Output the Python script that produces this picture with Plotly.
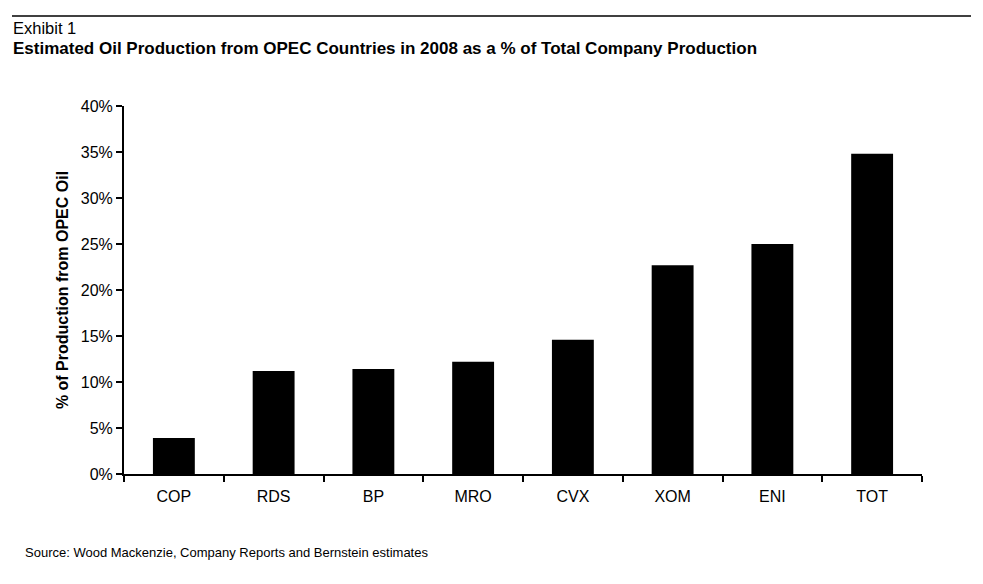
import plotly.graph_objects as go

companies = ["COP", "RDS", "BP", "MRO", "CVX", "XOM", "ENI", "TOT"]
opec_share = [3.9, 11.2, 11.4, 12.2, 14.6, 22.7, 25.0, 34.8]
y_ticks = [0, 5, 10, 15, 20, 25, 30, 35, 40]
y_tick_labels = [f"{v}%" for v in y_ticks]

W, H = 975, 576
L, R, T, B = 116, 61, 98, 110
PW, PH = W - L - R, H - T - B

def px(x):
    return (x - 8 - L) / PW

def py(y):
    return (H - B - (y - 8)) / PH

fig = go.Figure()
fig.add_trace(go.Bar(
    x=companies, y=opec_share,
    marker=dict(color="black", line=dict(width=0)),
    width=0.42,
))

fig.update_layout(
    width=W, height=H,
    margin=dict(l=L, r=R, t=T, b=B),
    paper_bgcolor="white", plot_bgcolor="white",
    font=dict(family="Liberation Sans, Arial, sans-serif", color="black", size=16),
    showlegend=False,
    xaxis=dict(
        showline=True, linecolor="black", linewidth=2,
        ticks="outside", tickson="boundaries", ticklen=6, tickwidth=2, tickcolor="black",
        tickfont=dict(size=16), showgrid=False, range=[-0.5, 7.5],
        ticklabelstandoff=7,
    ),
    yaxis=dict(
        range=[0, 40], tickvals=y_ticks, ticktext=y_tick_labels,
        showline=True, linecolor="black", linewidth=2,
        ticks="outside", ticklen=6, tickwidth=2, tickcolor="black",
        showgrid=False, zeroline=False, tickfont=dict(size=16),
        title=dict(text="<b>% of Production from OPEC Oil</b>", font=dict(size=16), standoff=8),
    ),
    shapes=[dict(type="line", xref="paper", yref="paper",
                 x0=px(12), x1=px(971), y0=py(16), y1=py(16),
                 line=dict(color="black", width=1.5))],
    annotations=[
        dict(text="Exhibit 1", xref="paper", yref="paper", x=px(11), y=py(17),
             xanchor="left", yanchor="top", showarrow=False, font=dict(size=16.5)),
        dict(text="<b>Estimated Oil Production from OPEC Countries in 2008 as a % of Total Company Production</b>",
             xref="paper", yref="paper", x=px(11), y=py(37),
             xanchor="left", yanchor="top", showarrow=False, font=dict(size=17)),
        dict(text="Source: Wood Mackenzie, Company Reports and Bernstein estimates",
             xref="paper", yref="paper", x=px(23), y=py(543),
             xanchor="left", yanchor="top", showarrow=False, font=dict(size=13)),
    ],
)

fig.write_html("out.html")
